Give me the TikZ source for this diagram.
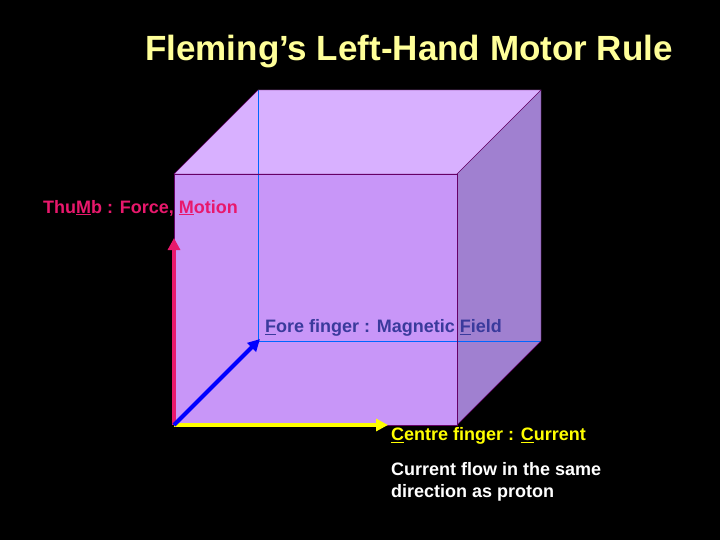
\documentclass[tikz,border=0pt]{standalone}
\usepackage{fontspec}
\setmainfont{Liberation Sans}
\usetikzlibrary{arrows.meta}
\definecolor{tpink}{HTML}{E8186C}
\definecolor{fblue}{HTML}{3A3A9C}
\definecolor{ylw}{HTML}{FFFF00}
\definecolor{titley}{HTML}{FFFF99}
\tikzset{lbl/.style={anchor=west,inner sep=0pt,font=\bfseries\fontsize{18}{22}\selectfont},
vec/.style={line width=4pt,-{Triangle[length=12pt,width=12pt]}}}
\begin{document}
\begin{tikzpicture}[x=1pt,y=-1pt]
\fill[black] (0,0) rectangle (720,540);
\useasboundingbox (0,0) rectangle (720,540);
\begin{scope}
\clip (0,0) rectangle (720,540);
\node[lbl,text=titley,font=\bfseries\fontsize{35}{40}\selectfont] (title) at (145,52) {Fleming’s Left-Hand Motor Rule};
\end{scope}
% cube
\fill[fill={rgb,255:red,216;green,176;blue,255}] (174,174) -- (258,90) -- (541,90) -- (457,174) -- cycle;
\fill[fill={rgb,255:red,160;green,128;blue,208}] (457,174) -- (541,90) -- (541,341) -- (457,425) -- cycle;
\fill[fill={rgb,255:red,200;green,150;blue,248}] (174,174) rectangle (457,425);
\draw[blue!60!cyan,thin] (258,90) -- (258,341) -- (541,341);
\draw[blue!60!cyan,thin] (174,425) -- (258,341);
\draw[violet!80!black,thin] (174,174) -- (258,90) -- (541,90) -- (457,174) -- cycle;
\draw[violet!80!black,thin] (174,174) rectangle (457,425);
\draw[violet!80!black,thin] (541,90) -- (541,341) -- (457,425);
\coordinate (o) at (174,425);
\coordinate (up) at (174,238);
\coordinate (fw) at (260,339);
\coordinate (rt) at (388,425);
\draw[vec,draw=tpink] (o) -- (up);
\draw[vec,draw=ylw] (o) -- (rt);
\draw[vec,draw=blue] (o) -- (fw);
\node[lbl,text=tpink] (th) at (43,208) {Thu\underline{M}b : Force, \underline{M}otion};
\node[lbl,text=fblue] (ff) at (265,328) {\underline{F}ore finger : Magnetic \underline{F}ield};
\node[lbl,text=ylw] (cf) at (391,436) {\underline{C}entre finger : \underline{C}urrent};
\node[lbl,text=white,align=left,anchor=north west] (cur) at (391,462) {Current flow in the same\\direction as proton};
\end{tikzpicture}
\end{document}
